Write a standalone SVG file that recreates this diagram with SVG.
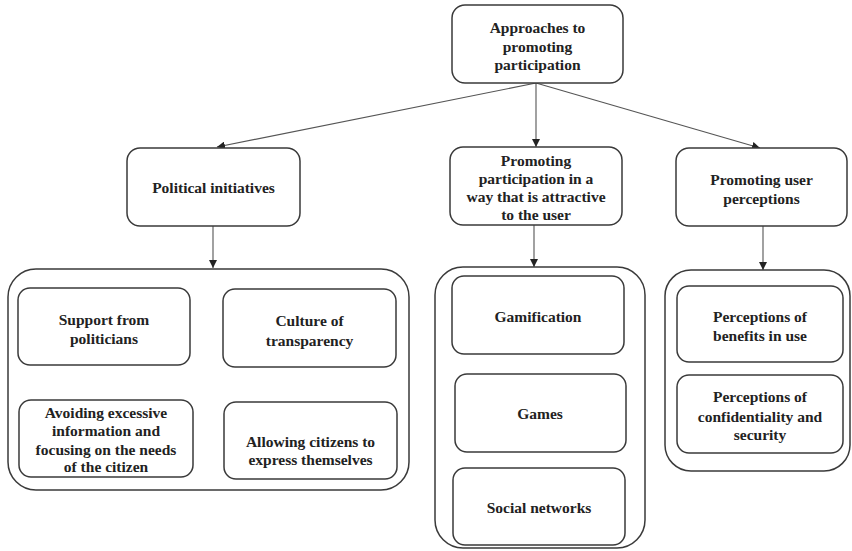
<svg xmlns="http://www.w3.org/2000/svg" width="852" height="551" viewBox="0 0 852 551">
<defs>
<marker id="arr" viewBox="0 0 10 10" refX="10" refY="5" markerWidth="8" markerHeight="8" markerUnits="userSpaceOnUse" orient="auto">
<path d="M0,0 L10,5 L0,10 z" fill="#222"/>
</marker>
<style>
.box{fill:#fff;stroke:#3a3a3a;stroke-width:1.5}
.cont{fill:none;stroke:#3a3a3a;stroke-width:1.5}
.t{font-family:"Liberation Serif","Times New Roman",serif;font-weight:bold;font-size:15.5px;fill:#222;text-anchor:middle}
.c{stroke:#555;stroke-width:1.1;fill:none;marker-end:url(#arr)}
</style>
</defs>
<rect width="852" height="551" fill="#fff"/>
<g id="connectors">
<line class="c" x1="536" y1="83" x2="217" y2="147"/>
<line class="c" x1="536" y1="83" x2="536" y2="147"/>
<line class="c" x1="536" y1="83" x2="760" y2="148"/>
<line class="c" x1="213" y1="226" x2="213" y2="268"/>
<line class="c" x1="534" y1="225" x2="534" y2="267"/>
<line class="c" x1="763" y1="226" x2="763" y2="270"/>
</g>
<g id="root">
<rect class="box" x="452" y="5" width="171" height="78" rx="13"/>
<text class="t" x="537.5" y="33">Approaches to</text>
<text class="t" x="537.5" y="52">promoting</text>
<text class="t" x="537.5" y="70">participation</text>
</g>
<g id="political">
<rect class="box" x="127" y="148" width="173" height="78" rx="13"/>
<text class="t" x="213.5" y="193">Political initiatives</text>
</g>
<g id="attractive">
<rect class="box" x="450" y="147" width="172" height="78" rx="13"/>
<text class="t" x="536" y="166">Promoting</text>
<text class="t" x="536" y="184">participation in a</text>
<text class="t" x="536" y="202">way that is attractive</text>
<text class="t" x="536" y="220">to the user</text>
</g>
<g id="perceptions">
<rect class="box" x="676" y="148" width="171" height="78" rx="13"/>
<text class="t" x="761.5" y="185">Promoting user</text>
<text class="t" x="761.5" y="204">perceptions</text>
</g>
<g id="political-group">
<rect class="cont" x="8" y="269" width="401" height="221" rx="28"/>
</g>
<g id="support">
<rect class="box" x="18" y="288" width="172" height="77" rx="12"/>
<text class="t" x="104" y="325">Support from</text>
<text class="t" x="104" y="344">politicians</text>
</g>
<g id="culture">
<rect class="box" x="223" y="289" width="173" height="78" rx="12"/>
<text class="t" x="309.5" y="326">Culture of</text>
<text class="t" x="309.5" y="346">transparency</text>
</g>
<g id="avoiding">
<rect class="box" x="19" y="400" width="174" height="77" rx="12"/>
<text class="t" x="106" y="418">Avoiding excessive</text>
<text class="t" x="106" y="436">information and</text>
<text class="t" x="106" y="455">focusing on the needs</text>
<text class="t" x="106" y="472">of the citizen</text>
</g>
<g id="allowing">
<rect class="box" x="224" y="402" width="173" height="77" rx="12"/>
<text class="t" x="310.5" y="447">Allowing citizens to</text>
<text class="t" x="310.5" y="465">express themselves</text>
</g>
<g id="attractive-group">
<rect class="cont" x="435" y="267" width="210" height="281" rx="28"/>
</g>
<g id="gamification">
<rect class="box" x="452" y="276" width="172" height="78" rx="12"/>
<text class="t" x="538" y="322">Gamification</text>
</g>
<g id="games">
<rect class="box" x="455" y="374" width="171" height="78" rx="12"/>
<text class="t" x="540" y="419">Games</text>
</g>
<g id="social">
<rect class="box" x="453" y="468" width="172" height="77" rx="12"/>
<text class="t" x="539" y="513">Social networks</text>
</g>
<g id="perceptions-group">
<rect class="cont" x="665" y="270" width="185" height="201" rx="26"/>
</g>
<g id="benefits">
<rect class="box" x="677" y="286" width="166" height="76" rx="12"/>
<text class="t" x="760" y="322">Perceptions of</text>
<text class="t" x="760" y="341">benefits in use</text>
</g>
<g id="confidentiality">
<rect class="box" x="677" y="375" width="166" height="78" rx="12"/>
<text class="t" x="760" y="402">Perceptions of</text>
<text class="t" x="760" y="422">confidentiality and</text>
<text class="t" x="760" y="440">security</text>
</g>
</svg>
